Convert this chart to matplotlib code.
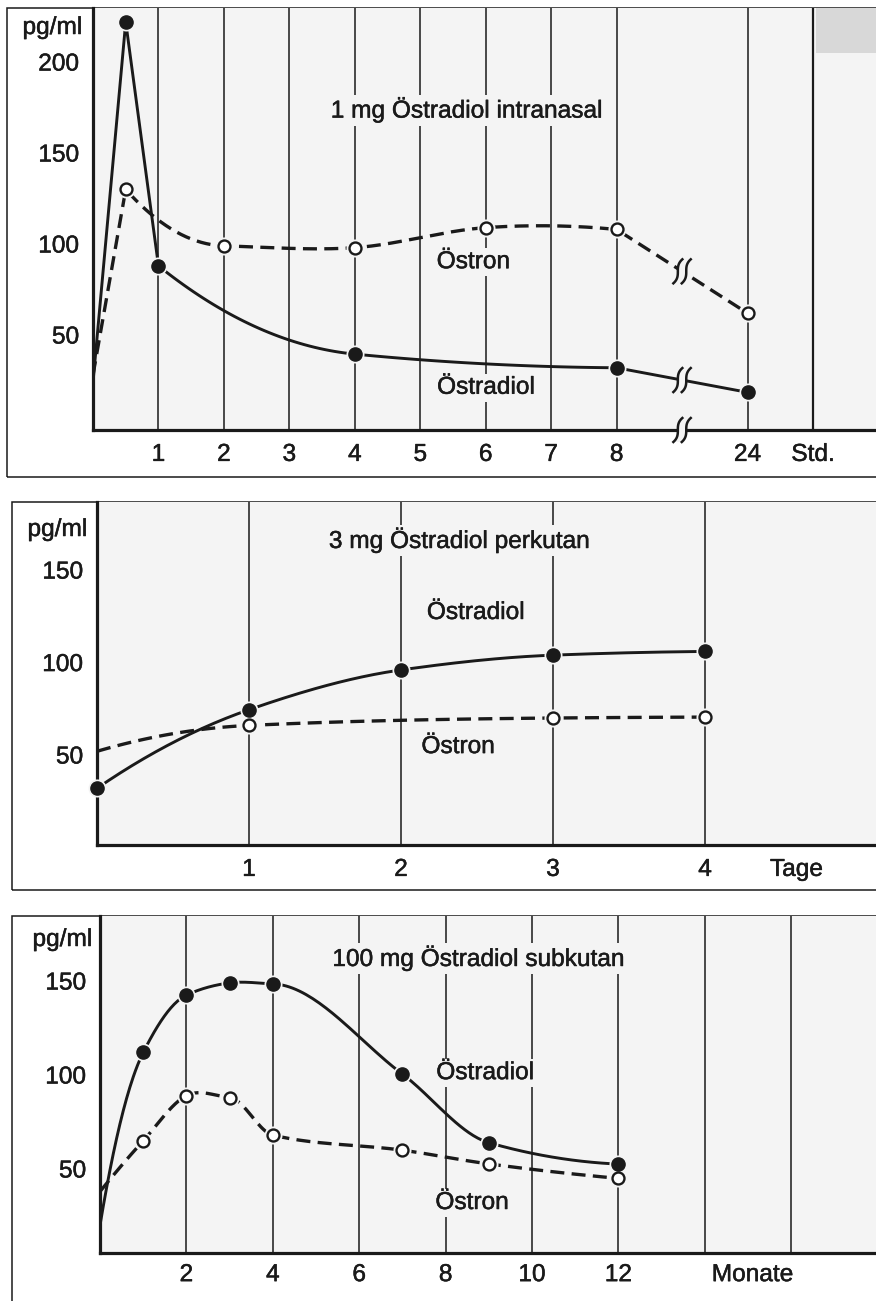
import numpy as np
import matplotlib
matplotlib.use("Agg")
import matplotlib.pyplot as plt
from matplotlib import transforms
from matplotlib import patheffects
from matplotlib.patches import Rectangle

plt.rcParams['font.family'] = ['Liberation Sans', 'DejaVu Sans']

# ---------------- data ----------------
# 1 mg estradiol intranasal (hours)
nasal_e2_hours = [0, 0.5, 1, 4, 8, 24]
nasal_e2 = [24, 222, 88, 39.5, 32, 18.5]
nasal_e1_hours = [0, 0.5, 2, 4, 6, 8, 24]
nasal_e1 = [28, 130, 99, 98, 109, 108, 62]
nasal_ticks = [1, 2, 3, 4, 5, 6, 7, 8, 24]

# 3 mg estradiol percutaneous (days)
perc_e2_days = [0, 1, 2, 3, 4]
perc_e2 = [32, 74.5, 96, 104, 106]
perc_e1_days = [0, 1, 3, 4]
perc_e1 = [52, 66, 70, 70.5]
perc_ticks = [1, 2, 3, 4]

# 100 mg estradiol subcutaneous (months)
sc_months = [0, 1, 2, 3, 4, 7, 9, 12]
sc_e2 = [20, 112, 142.5, 149, 148.5, 100.5, 64, 52.6]
sc_e1 = [38, 65, 89, 88, 68, 60, 52.7, 45]
sc_ticks = [2, 4, 6, 8, 10, 12]

y_ticks_nasal = [50, 100, 150, 200]
y_ticks_other = [50, 100, 150]

# ---------------- styling ----------------
W, H = 876, 1301
INK = '#1a1a1a'
FACE = '#f4f4f4'
FS = 17.6

fig = plt.figure(figsize=(W / 100, H / 100), dpi=100)
fig.patch.set_facecolor('white')


def axes_px(x0, y0, x1, y1):
    return fig.add_axes([x0 / W, 1 - y1 / H, (x1 - x0) / W, (y1 - y0) / H])


def frame_px(x0, y0, x1, y1):
    fig.add_artist(Rectangle((x0 / W, 1 - y1 / H), (x1 - x0) / W, (y1 - y0) / H,
                             transform=fig.transFigure, fill=False, lw=1.1,
                             ec=INK, zorder=0))


def style(ax, xlim, ylim, yticks, xpos, xlabels, grid, xpad=10):
    ax.set_facecolor(FACE)
    ax.set_xlim(*xlim)
    ax.set_ylim(*ylim)
    for s in ('top', 'right'):
        ax.spines[s].set_visible(False)
    for s in ('left', 'bottom'):
        ax.spines[s].set_linewidth(2.3)
        ax.spines[s].set_color(INK)
    ax.set_yticks(yticks)
    ax.set_yticklabels([str(v) for v in yticks])
    ax.set_xticks(xpos)
    ax.set_xticklabels(xlabels)
    ax.tick_params(axis='both', length=0, labelsize=FS, colors=INK)
    ax.tick_params(axis='y', pad=10)
    ax.tick_params(axis='x', pad=xpad)
    for g in grid:
        ax.axvline(g, color=INK, lw=1.1, zorder=1)


def tangents(x, y):
    """Harmonic-mean slopes where the data is monotone, centred slopes at
    local extrema, parabolic end conditions."""
    d = np.diff(y) / np.diff(x)
    h = np.diff(x)
    m = np.zeros_like(y)
    for i in range(1, len(x) - 1):
        s0, s1 = d[i - 1], d[i]
        if s0 * s1 > 0:
            w0, w1 = 2 * h[i] + h[i - 1], h[i] + 2 * h[i - 1]
            m[i] = (w0 + w1) / (w0 / s0 + w1 / s1)
        else:
            m[i] = (y[i + 1] - y[i - 1]) / (x[i + 1] - x[i - 1])
    if len(x) > 2:
        m[0] = 2 * d[0] - m[1]
        m[-1] = 2 * d[-1] - m[-2]
        if m[0] * d[0] < 0:
            m[0] = 0.0
        if m[-1] * d[-1] < 0:
            m[-1] = 0.0
    else:
        m[:] = d[0]
    return m


def spline(x, y, n=40):
    x = np.asarray(x, float)
    y = np.asarray(y, float)
    m = tangents(x, y)
    xs, ys = [x[0]], [y[0]]
    for i in range(len(x) - 1):
        h = x[i + 1] - x[i]
        t = np.linspace(0, 1, n)[1:]
        h00 = 2 * t**3 - 3 * t**2 + 1
        h10 = t**3 - 2 * t**2 + t
        h01 = -2 * t**3 + 3 * t**2
        h11 = t**3 - t**2
        xs.extend(x[i] + t * h)
        ys.extend(h00 * y[i] + h10 * h * m[i] + h01 * y[i + 1] + h11 * h * m[i + 1])
    return np.array(xs), np.array(ys)


def curve(x, y, i0=0, i1=None):
    """Straight segments outside [i0, i1], smooth spline inside."""
    x = np.asarray(x, float)
    y = np.asarray(y, float)
    i1 = len(x) - 1 if i1 is None else i1
    sx, sy = spline(x[i0:i1 + 1], y[i0:i1 + 1])
    xs = np.concatenate([x[:i0], sx, x[i1 + 1:]])
    ys = np.concatenate([y[:i0], sy, y[i1 + 1:]])
    return xs, ys


def series(ax, x, y, filled, i0=0, i1=None, first_marker=False, lw=2.1):
    cx, cy = curve(x, y, i0, i1)
    if filled:
        ax.plot(cx, cy, color=INK, lw=lw, solid_capstyle='round', zorder=3)
    else:
        ax.plot(cx, cy, color=INK, lw=2.4, dashes=(4.2, 2.2), zorder=3)
    mx = np.asarray(x, float)
    my = np.asarray(y, float)
    if not first_marker:
        mx, my = mx[1:], my[1:]
    ax.plot(mx, my, 'o', ms=13, color=FACE, mec='none', zorder=4, clip_on=False)
    if filled:
        ax.plot(mx, my, 'o', ms=9.5, color=INK, mec=INK, zorder=5, clip_on=False)
    else:
        ax.plot(mx, my, 'o', ms=8.6, mfc='white', mec=INK, mew=1.7, zorder=5,
                clip_on=False)


def label(ax, x, y, text):
    ax.text(x, y, text, ha='center', va='center', fontsize=FS, color=INK, zorder=6,
            bbox=dict(boxstyle='square,pad=0.12', fc=FACE, ec='none'))


def break_mark(ax, x, y, clip=True):
    trans = fig.dpi_scale_trans + transforms.ScaledTranslation(x, y, ax.transData)
    s = np.linspace(0, 1, 40)
    w, h, off = 0.09, 0.24, 0.042
    dx = (w / 2) * (2 * s - 1) ** 3
    dy = h * (s - 0.5)
    left_x, right_x = dx - off, dx + off
    poly_x = np.concatenate([left_x, right_x[::-1]])
    poly_y = np.concatenate([dy, dy[::-1]])
    ax.fill(poly_x, poly_y, color=FACE, transform=trans, zorder=7, clip_on=clip, lw=0)
    for xx in (left_x, right_x):
        ax.plot(xx, dy, color=INK, lw=1.8, transform=trans, zorder=8, clip_on=clip)


def hour_pos(h):
    return np.interp(h, [0, 8, 24], [0, 8, 10])


# ---------------- panel 1: intranasal ----------------
frame_px(7, 8, 900, 477)
ax1 = axes_px(93, 8, 900, 430)
pos_ticks = list(hour_pos(nasal_ticks)) + [11]
style(ax1, (0, (900 - 93) / 65.45), (-2.2, 229.7), y_ticks_nasal, pos_ticks,
      [str(t) for t in nasal_ticks] + ['Std.'], grid=list(hour_pos(nasal_ticks)))
ax1.axvline(11, color=INK, lw=1.6, zorder=1)
ax1.add_patch(Rectangle((11.05, 205), 1.2, 24.7, color='#d8d8d8', lw=0, zorder=0.5))

e2x = hour_pos(nasal_e2_hours)
e1x = hour_pos(nasal_e1_hours)
series(ax1, e2x, nasal_e2, True, i0=2, i1=4)
series(ax1, e1x, nasal_e1, False, i0=1, i1=5)
break_mark(ax1, 9, np.interp(9, e2x, nasal_e2))
break_mark(ax1, 9, np.interp(9, e1x, nasal_e1))
break_mark(ax1, 9, -2.2, clip=False)

label(ax1, 5.70, 173.6, '1 mg Östradiol intranasal')
label(ax1, 5.81, 90, 'Östron')
label(ax1, 6.0, 21, 'Östradiol')
fig.text(82 / W, 1 - 28 / H, 'pg/ml', ha='right', va='center', fontsize=FS, color=INK)

# ---------------- panel 2: percutaneous ----------------
frame_px(12, 502, 900, 890)
ax2 = axes_px(97, 502, 900, 845)
style(ax2, (0, (900 - 97) / 152.0), (1.35, 186.8), y_ticks_other,
      perc_ticks + [4.6], [str(t) for t in perc_ticks] + ['Tage'], grid=perc_ticks)
series(ax2, perc_e2_days, perc_e2, True, first_marker=True)
series(ax2, perc_e1_days, perc_e1, False)
label(ax2, 2.38, 166, '3 mg Östradiol perkutan')
label(ax2, 2.49, 126.8, 'Östradiol')
label(ax2, 2.375, 54.3, 'Östron')
fig.text(87 / W, 1 - 530 / H, 'pg/ml', ha='right', va='center', fontsize=FS, color=INK)

# ---------------- panel 3: subcutaneous ----------------
frame_px(12, 916, 900, 1320)
ax3 = axes_px(100, 916, 900, 1253)
style(ax3, (0, (900 - 100) / 43.2), (5.3, 184.6), y_ticks_other,
      sc_ticks + [15.1], [str(t) for t in sc_ticks] + ['Monate'],
      grid=sc_ticks + [14, 16], xpad=8)
series(ax3, sc_months, sc_e2, True)
series(ax3, sc_months, sc_e1, False)
label(ax3, 8.75, 162, '100 mg Östradiol subkutan')
label(ax3, 8.91, 101, 'Östradiol')
label(ax3, 8.61, 31.9, 'Östron')
fig.text(92 / W, 1 - 940 / H, 'pg/ml', ha='right', va='center', fontsize=FS, color=INK)

# slightly heavier type, like the printed original
heavy = [patheffects.withStroke(linewidth=0.35, foreground=INK)]
for t in fig.findobj(matplotlib.text.Text):
    t.set_path_effects(heavy)

fig.savefig('out.png', dpi=100)
